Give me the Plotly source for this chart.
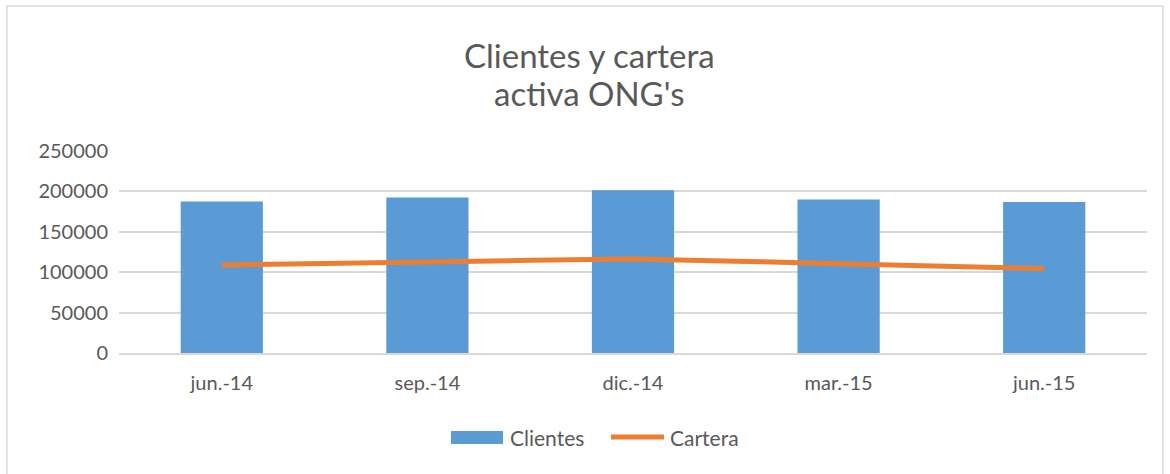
import plotly.graph_objects as go

# ── data ──
periodos = ["jun.-14", "sep.-14", "dic.-14", "mar.-15", "jun.-15"]
clientes = [187400, 192300, 201400, 189900, 186900]
cartera = [108900, 112600, 116300, 110600, 104500]

W, H = 1170, 474
L, R, T, B = 119, 23, 151, 121

BAR = "#5B9BD5"
LINE = "#ED7D31"
GRID = "#D9D9D9"
TXT = "#595959"
FONT = "Lato, 'Open Sans', sans-serif"


def px(x):  # pixel -> paper x
    return (x - L) / (W - L - R)


def py(y):  # pixel -> paper y
    return (H - B - y) / (H - T - B)


fig = go.Figure()
fig.add_trace(go.Bar(
    x=periodos, y=clientes, name="Clientes", showlegend=False,
    marker=dict(color=BAR, line=dict(width=0)),
))
fig.add_trace(go.Scatter(
    x=periodos, y=cartera, name="Cartera", mode="lines", showlegend=False,
    line=dict(color=LINE, width=5, shape="spline", smoothing=0.4),
))

# outer chart border
fig.add_shape(type="rect", xref="paper", yref="paper",
              x0=px(7), x1=px(1163), y0=py(490), y1=py(6),
              line=dict(color="#D9D9D9", width=1.5), layer="below")

# title, two lines (Excel spacing is wider than plotly's <br>)
for txt, ypix in [("Clientes y cartera", 55), ("activa ONG's", 93)]:
    fig.add_annotation(
        text=txt, xref="paper", yref="paper", x=px(589), y=py(ypix),
        xanchor="center", yanchor="middle", showarrow=False,
        font=dict(size=33, color=TXT, family=FONT),
    )

# legend drawn by hand so the swatches have the original's length
fig.add_shape(type="rect", xref="paper", yref="paper",
              x0=px(451), x1=px(503), y0=py(444), y1=py(431),
              fillcolor=BAR, line=dict(width=0))
fig.add_shape(type="line", xref="paper", yref="paper",
              x0=px(611), x1=px(664), y0=py(437), y1=py(437),
              line=dict(color=LINE, width=5))
for txt, xpix in [("Clientes", 508), ("Cartera", 668)]:
    fig.add_annotation(
        text=txt, xref="paper", yref="paper", x=px(xpix), y=py(437),
        xanchor="left", yanchor="middle", showarrow=False,
        font=dict(size=21, color=TXT, family=FONT),
    )

fig.update_layout(
    width=W, height=H,
    margin=dict(l=L, r=R, t=T, b=B, autoexpand=False),
    paper_bgcolor="white", plot_bgcolor="white",
    font=dict(family=FONT, color=TXT, size=20),
    bargap=0.6,
    showlegend=False,
    xaxis=dict(
        showgrid=False, showline=True, linecolor=GRID, linewidth=1.5,
        ticks="", tickfont=dict(size=20, color=TXT), ticklabelstandoff=11,
    ),
    yaxis=dict(
        range=[0, 250000], dtick=50000, tickformat="d",
        showgrid=True, gridcolor=GRID, gridwidth=1.5,
        zeroline=False, showline=False, ticks="",
        tickfont=dict(size=20, color=TXT), ticklabelstandoff=10,
    ),
)

fig.write_html("out.html", config={"displayModeBar": False},
               post_script="document.body.style.margin='0';")
